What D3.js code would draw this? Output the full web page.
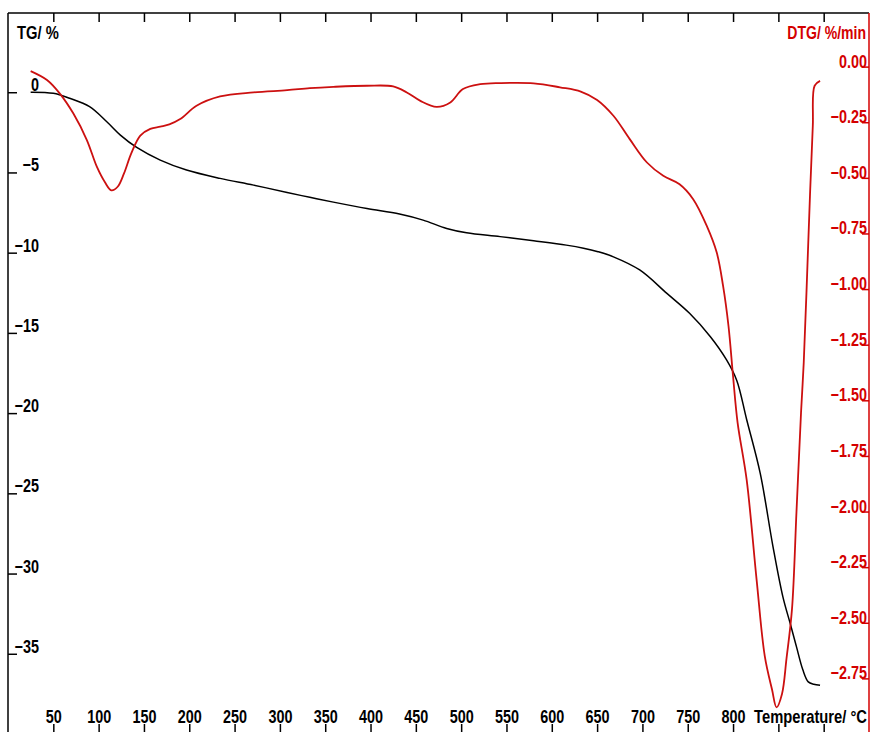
<!DOCTYPE html>
<html>
<head>
<meta charset="utf-8">
<script src="https://cdn.jsdelivr.net/npm/d3@7"></script>
<style>
  html, body { margin: 0; padding: 0; background: #fff; }
  svg { display: block; }
  text { font-family: "Liberation Sans", Arial, sans-serif; font-weight: bold; }
</style>
</head>
<body>
<svg id="chart" width="873" height="732"></svg>
<script>
// ---- data ----
const tgTemp = [25, 50, 68, 90, 109, 124, 142, 168, 197, 234, 271, 308, 333, 359, 396, 432, 458, 484, 506, 543, 580, 616, 635, 651, 668, 697, 727, 752, 775, 793, 804, 815, 830, 844, 855, 863, 870, 877, 883, 889, 896];
const tgValues = [0, -0.07, -0.38, -0.9, -1.84, -2.67, -3.44, -4.23, -4.85, -5.37, -5.79, -6.25, -6.55, -6.85, -7.25, -7.59, -7.97, -8.49, -8.76, -9.0, -9.26, -9.53, -9.72, -9.94, -10.26, -11.08, -12.54, -13.78, -15.24, -16.7, -17.95, -20.4, -23.76, -28.3, -31.45, -33.1, -34.57, -36.0, -36.75, -36.9, -36.96];

const dtgTemp = [25, 43, 57, 72, 87, 98, 107, 114, 121, 128, 136, 146, 157, 168, 178, 190, 208, 234, 271, 308, 333, 359, 396, 425, 440, 455, 473, 488, 502, 521, 543, 580, 609, 632, 650, 668, 686, 705, 723, 741, 756, 771, 782, 789, 795, 800, 805, 815, 826, 835, 843, 848, 854, 859, 865, 870, 875, 878, 881, 885, 888, 890, 896];
const dtgValues = [-0.02, -0.06, -0.12, -0.21, -0.33, -0.45, -0.52, -0.556, -0.54, -0.48, -0.39, -0.31, -0.28, -0.27, -0.26, -0.236, -0.176, -0.134, -0.116, -0.106, -0.097, -0.091, -0.086, -0.089, -0.116, -0.154, -0.181, -0.161, -0.101, -0.079, -0.074, -0.075, -0.093, -0.112, -0.15, -0.221, -0.326, -0.431, -0.491, -0.529, -0.596, -0.716, -0.836, -0.986, -1.167, -1.392, -1.6, -1.857, -2.307, -2.65, -2.80, -2.88, -2.82, -2.66, -2.44, -2.0, -1.556, -1.33, -1.016, -0.566, -0.266, -0.086, -0.064];

const xTicks = [50, 100, 150, 200, 250, 300, 350, 400, 450, 500, 550, 600, 650, 700, 750, 800, 850, 900];
const xTickLabels = ["50", "100", "150", "200", "250", "300", "350", "400", "450", "500", "550", "600", "650", "700", "750", "800", "", ""];
const tgTicks = [0, -5, -10, -15, -20, -25, -30, -35];
const dtgTicks = [0, -0.25, -0.5, -0.75, -1.0, -1.25, -1.5, -1.75, -2.0, -2.25, -2.5, -2.75];

const xTitle = "Temperature/ °C";
const yTitle = "TG/ %";
const y2Title = "DTG/ %/min";

(function () {
  // ---- layout ----
  const pLeft = 8, pRight = 869, pTop = 13, pBottom = 734;
  const red = "#d40000";
  const redLine = "#cc1010";
  const FS = 18, SX = 0.8;

  const svg = d3.select("#chart");
  const x = d3.scaleLinear().domain([0, 950]).range([pLeft, pRight]);
  const y = d3.scaleLinear().domain([-40, 5]).range([pBottom, pTop - 1]);
  const y2 = d3.scaleLinear().domain([-3, 0.25]).range([pBottom, pTop - 2]);

  svg.append("defs").append("clipPath").attr("id", "plot")
    .append("rect").attr("x", pLeft).attr("y", pTop).attr("width", pRight - pLeft).attr("height", pBottom - pTop);

  // frame
  svg.append("line").attr("x1", pLeft).attr("x2", pRight).attr("y1", pTop).attr("y2", pTop)
    .attr("stroke", "#000").attr("stroke-width", 1.5);
  svg.append("line").attr("x1", pLeft).attr("x2", pLeft).attr("y1", pTop).attr("y2", pBottom)
    .attr("stroke", "#000").attr("stroke-width", 1.5);
  svg.append("line").attr("x1", pLeft).attr("x2", pRight).attr("y1", pBottom).attr("y2", pBottom)
    .attr("stroke", "#000").attr("stroke-width", 1.5);

  function styleText(sel, color, anchor, tx, ty, sx) {
    sel.attr("x", 0).attr("y", 0).attr("dy", 0)
      .attr("text-anchor", anchor)
      .attr("transform", `translate(${tx},${ty}) scale(${sx || SX},1)`)
      .attr("font-size", FS).attr("fill", color)
      .style("font-family", "'Liberation Sans',Arial,sans-serif").style("font-weight", "bold");
    return sel;
  }

  // top ticks
  const gTop = svg.append("g").attr("transform", `translate(0,${pTop})`)
    .call(d3.axisBottom(x).tickValues(xTicks).tickSize(9).tickFormat(""));
  gTop.select(".domain").remove();
  gTop.selectAll(".tick line").attr("stroke", "#000").attr("stroke-width", 1.5);

  // bottom ticks + labels
  const gBot = svg.append("g").attr("transform", `translate(0,${pBottom})`)
    .call(d3.axisTop(x).tickValues(xTicks).tickSize(10).tickFormat((d, i) => xTickLabels[i]));
  gBot.select(".domain").remove();
  gBot.selectAll(".tick line").attr("stroke", "#000").attr("stroke-width", 1.5);
  styleText(gBot.selectAll(".tick text"), "#000", "middle", 0, -11);

  // left axis
  const gLeft = svg.append("g").attr("transform", `translate(${pLeft},0)`)
    .call(d3.axisRight(y).tickValues(tgTicks).tickSize(9).tickFormat(d3.format("d")));
  gLeft.select(".domain").remove();
  gLeft.selectAll(".tick line").attr("stroke", "#000").attr("stroke-width", 1.5);
  styleText(gLeft.selectAll(".tick text"), "#000", "end", 31, -1.5);

  // right axis
  svg.append("line").attr("x1", pRight).attr("x2", pRight).attr("y1", pTop).attr("y2", pBottom)
    .attr("stroke", red).attr("stroke-width", 1.5);
  const gRight = svg.append("g").attr("transform", `translate(${pRight},0)`)
    .call(d3.axisLeft(y2).tickValues(dtgTicks).tickSize(7).tickFormat(d3.format(".2f")));
  gRight.select(".domain").remove();
  gRight.selectAll(".tick line").attr("stroke", red).attr("stroke-width", 1.5);
  styleText(gRight.selectAll(".tick text"), red, "end", -2, 0.5);

  // titles
  styleText(svg.append("text").text(yTitle), "#000", "start", 17, 39, 0.82);
  styleText(svg.append("text").text(y2Title), red, "end", 866, 39, 0.78);
  styleText(svg.append("text").text(xTitle), "#000", "end", 867, 723, 0.82);

  // curves
  const tgData = tgTemp.map((t, i) => ({ t, v: tgValues[i] }));
  const dtgData = dtgTemp.map((t, i) => ({ t, v: dtgValues[i] }));
  const tgLine = d3.line().x(d => x(d.t)).y(d => y(d.v)).curve(d3.curveCatmullRom.alpha(0.5));
  const dtgLine = d3.line().x(d => x(d.t)).y(d => y2(d.v)).curve(d3.curveCatmullRom.alpha(0.5));

  const plot = svg.append("g").attr("clip-path", "url(#plot)");
  plot.append("path").datum(tgData).attr("d", tgLine)
    .attr("fill", "none").attr("stroke", "#000").attr("stroke-width", 1.5);
  plot.append("path").datum(dtgData).attr("d", dtgLine)
    .attr("fill", "none").attr("stroke", redLine).attr("stroke-width", 1.8);
})();
</script>
</body>
</html>
